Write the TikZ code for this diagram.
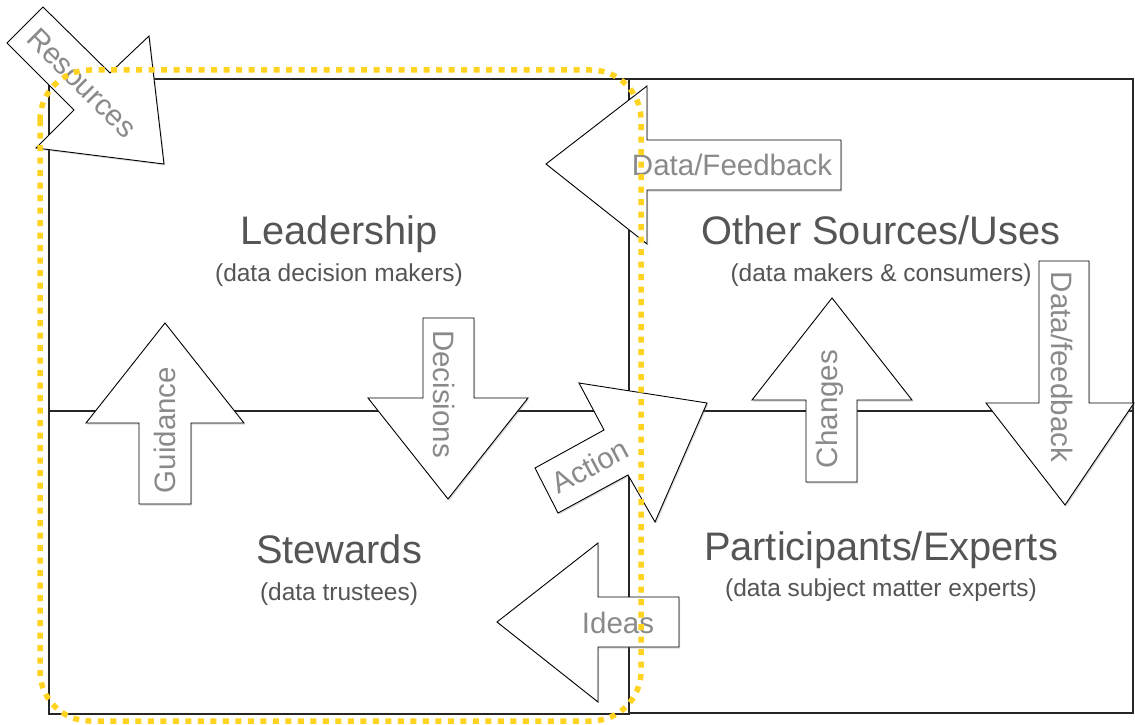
\documentclass[tikz,border=0pt]{standalone}
\usepackage{fontspec}
\setmainfont{Liberation Sans}
\usetikzlibrary{shadows}
\definecolor{titlegray}{HTML}{555555}
\definecolor{labelgray}{HTML}{8A8A8A}
\definecolor{stewardyellow}{HTML}{FFD320}

\begin{document}
\begin{tikzpicture}[
  x=1pt, y=-1pt,
  box/.style={draw=black!85, line width=1.1pt},
  blockarrow/.style={draw=black, line width=0.9pt, fill=white, line join=miter,
    drop shadow={shadow xshift=1.2pt, shadow yshift=-1.5pt, opacity=0.3}},
  title/.style={anchor=base, text=titlegray, inner sep=0pt, font=\fontsize{39.8}{48}\selectfont},
  subtitle/.style={anchor=base, text=titlegray, inner sep=0pt, font=\fontsize{24.5}{29}\selectfont},
  arrowlabel/.style={text=labelgray, inner sep=0pt, font=\fontsize{29.5}{35}\selectfont},
  stewardline/.style={draw=stewardyellow, line width=5.5pt, dash pattern=on 6pt off 6.5pt, rounded corners=50pt}
]
  \useasboundingbox (0,0) rectangle (1135,725);

  \draw[box] (49,79) rectangle (629,714);
  \draw[box] (629,79) rectangle (1133,713);
  \draw[box] (49,411) -- (1133,411);

  \node[title] (leader) at (339,244) {Leadership};
  \node[subtitle] (leadersub) at (339,281) {(data decision makers)};
  \node[title] (other) at (881,244) {Other Sources/Uses};
  \node[subtitle] (othersub) at (881,281) {(data makers \& consumers)};
  \node[title] (steward) at (339,563) {Stewards};
  \node[subtitle] (stewardsub) at (339,600) {(data trustees)};
  \node[title] (expert) at (881,560) {Participants/Experts};
  \node[subtitle] (expertsub) at (881,596) {(data subject matter experts)};

  \path[blockarrow] (43,7) -- (110,73) -- (149,36) -- (164,164) -- (36,148) -- (74,110) -- (7,43) -- cycle;
  \path[blockarrow] (841,140) -- (647,140) -- (647,86) -- (546,164) -- (647,244) -- (647,190) -- (841,190) -- cycle;
  \path[blockarrow] (139,504) -- (139,423) -- (86,423) -- (165,323) -- (244,423) -- (191,423) -- (191,504) -- cycle;
  \path[blockarrow] (423,318) -- (474,318) -- (474,398) -- (528,398) -- (448,499) -- (368,398) -- (423,398) -- cycle;
  \path[blockarrow] (535,468) -- (604,430) -- (579,383) -- (707,403) -- (655,522) -- (628,475) -- (558,513) -- cycle;
  \path[blockarrow] (806,482) -- (806,400) -- (752,400) -- (832,298) -- (912,400) -- (857,400) -- (857,482) -- cycle;
  \path[blockarrow] (1039,261) -- (1089,261) -- (1089,403) -- (1134,403) -- (1065,505) -- (986,403) -- (1039,403) -- cycle;
  \path[blockarrow] (679,597) -- (598,597) -- (598,543) -- (497,622) -- (598,702) -- (598,647) -- (679,647) -- cycle;

  \node[arrowlabel, rotate=-45] (resources) at (82,83) {Resources};
  \node[arrowlabel] (datafeedback) at (732,165) {Data/Feedback};
  \node[arrowlabel, rotate=90] (guidance) at (165,430) {Guidance};
  \node[arrowlabel, rotate=-90] (decisions) at (444,394) {Decisions};
  \node[arrowlabel, rotate=28] (action) at (590,466) {Action};
  \node[arrowlabel, rotate=90] (changes) at (830,409) {Changes};
  \node[arrowlabel, rotate=-90] (datafeedbackdown) at (1062,367) {Data/feedback};
  \node[arrowlabel] (ideas) at (618,623) {Ideas};

  \draw[stewardline] (40,70) rectangle (641,721);
\end{tikzpicture}
\end{document}
